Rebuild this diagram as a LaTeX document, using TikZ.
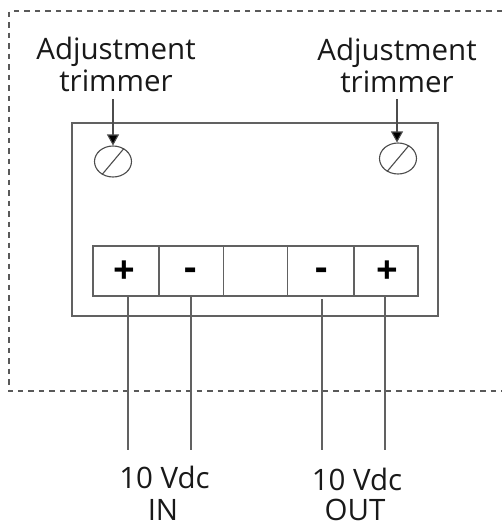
\documentclass[tikz,border=0pt]{standalone}
\usepackage{fontspec}
\setmainfont{Open Sans}
\usetikzlibrary{arrows.meta,shapes.geometric}
\tikzset{
  x=1pt,y=-1pt,
  line/.style={draw=black!62,line width=1.3pt},
  dashline/.style={draw=black!65,line width=1.2pt,dash pattern=on 5.5pt off 5pt},
  lbl/.style={font=\fontsize{29.5}{29.5}\selectfont,text=black!90,inner sep=0pt,anchor=base},
  sym/.style={font=\fontsize{38}{38}\selectfont\bfseries,text=black,inner sep=0pt},
  trim/.style={ellipse,draw=black!70,line width=1.1pt,minimum width=37pt,minimum height=31pt,inner sep=0pt},
  slash/.style={draw=black!70,line width=1.1pt},
  arrow/.style={draw=black!70,line width=1.1pt,-{Triangle[length=11pt,width=12pt,fill=black]}},
  cell/.style={line,rectangle,minimum height=50pt,inner sep=0pt}
}
\begin{document}
\begin{tikzpicture}
\useasboundingbox (0,0) rectangle (502,528);
\coordinate (fa) at (502,11);
\coordinate (fb) at (9,11);
\coordinate (fc) at (9,391);
\coordinate (fd) at (502,391);
\draw[dashline] (fa) -- (fb) -- (fc) -- (fd);
\node[line,rectangle,minimum width=366pt,minimum height=193pt,inner sep=0pt] (module) at (255,219.5) {};
\node[cell,minimum width=66pt] (t1) at (126,271) {};
\node[cell,minimum width=64.5pt] (t2) at (191.25,271) {};
\node[cell,minimum width=64pt] (t3) at (255.5,271) {};
\node[cell,minimum width=66.5pt] (t4) at (320.75,271) {};
\node[cell,minimum width=64pt] (t5) at (386,271) {};
\node[sym] (p1) at (124,272) {+};
\node[sym] (m1) at (191,274) {-};
\node[sym] (m2) at (322,274) {-};
\node[sym] (p2) at (387.5,272) {+};
\node[trim] (tl) at (113,161.5) {};
\node[trim] (tr) at (398,158.5) {};
\draw[slash] (tl.230) -- (tl.50);
\draw[slash] (tr.230) -- (tr.50);
\node[lbl] (al1) at (116,59) {Adjustment};
\node[lbl] (al2) at (116,91) {trimmer};
\node[lbl] (ar1) at (397,60) {Adjustment};
\node[lbl] (ar2) at (397,92) {trimmer};
\node[lbl] (in1) at (164.5,488) {10 Vdc};
\node[lbl] (in2) at (163,520) {IN};
\node[lbl] (out1) at (357,490) {10 Vdc};
\node[lbl] (out2) at (355,520) {OUT};
\coordinate (asl) at (113,99);
\coordinate (asr) at (397,99);
\draw[arrow] (asl) -- (asl |- tl.north);
\draw[arrow] (asr) -- (asr |- tr.north);
\coordinate (w1t) at (128,296); \coordinate (w1b) at (128,450);
\coordinate (w2t) at (191,296); \coordinate (w2b) at (191,450);
\coordinate (w3t) at (322,299); \coordinate (w3b) at (322,450);
\coordinate (w4t) at (385,296); \coordinate (w4b) at (385,450);
\draw[line] (w1t) -- (w1b);
\draw[line] (w2t) -- (w2b);
\draw[line] (w3t) -- (w3b);
\draw[line] (w4t) -- (w4b);
\end{tikzpicture}
\end{document}
